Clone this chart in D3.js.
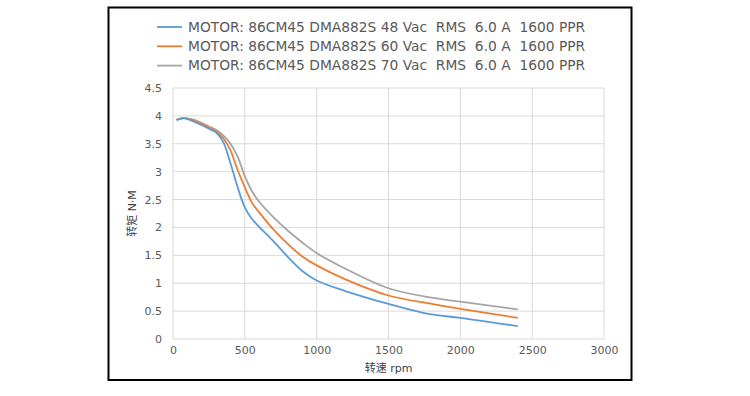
<!DOCTYPE html>
<html>
<head>
<meta charset="utf-8">
<script src="https://cdn.jsdelivr.net/npm/d3@7"></script>
<style>
  body { margin: 0; background: #fff; }
  text { font-family: "DejaVu Sans", "Noto Sans CJK SC", sans-serif; }
</style>
</head>
<body>
<div id="chart"></div>
<script>
// speed points (rpm) and torque (N·M) per motor voltage
const speeds = [25, 75, 150, 250, 300, 350, 400, 450, 500, 550, 600, 700, 800, 900, 1000, 1200, 1500, 1800, 2000, 2400];
const torque48 = [3.93, 3.96, 3.89, 3.77, 3.7, 3.53, 3.15, 2.72, 2.36, 2.15, 2.01, 1.75, 1.47, 1.22, 1.05, 0.86, 0.63, 0.44, 0.38, 0.23];
const torque60 = [3.93, 3.96, 3.91, 3.79, 3.72, 3.6, 3.38, 3.03, 2.72, 2.44, 2.27, 1.96, 1.7, 1.48, 1.32, 1.07, 0.78, 0.63, 0.54, 0.38];
const torque70 = [3.93, 3.96, 3.93, 3.81, 3.75, 3.65, 3.5, 3.27, 2.92, 2.65, 2.46, 2.18, 1.94, 1.73, 1.54, 1.26, 0.91, 0.74, 0.67, 0.53];
const seriesNames = [
  "MOTOR: 86CM45 DMA882S 48 Vac  RMS  6.0 A  1600 PPR",
  "MOTOR: 86CM45 DMA882S 60 Vac  RMS  6.0 A  1600 PPR",
  "MOTOR: 86CM45 DMA882S 70 Vac  RMS  6.0 A  1600 PPR"
];
const seriesColors = ["#5B9BD5", "#ED7D31", "#A5A5A5"];
const xTicks = [0, 500, 1000, 1500, 2000, 2500, 3000];
const yTicks = [0, 0.5, 1, 1.5, 2, 2.5, 3, 3.5, 4, 4.5];

const W = 750, H = 396;
const margin = { top: 88, right: 146, bottom: 57, left: 173 };
const width = W - margin.left - margin.right,
  height = H - margin.top - margin.bottom;

const svg = d3.select("#chart").append("svg")
  .attr("width", W).attr("height", H);

// outer frame
svg.append("rect")
  .attr("x", 108.5).attr("y", 7.5)
  .attr("width", 523).attr("height", 372.5)
  .attr("fill", "none").attr("stroke", "#000").attr("stroke-width", 2);

const g = svg.append("g").attr("transform", `translate(${margin.left},${margin.top})`);

const x = d3.scaleLinear().domain([0, 3000]).range([0, width]);
const y = d3.scaleLinear().domain([0, 4.5]).range([height, 0]);

// grid
g.append("g").selectAll("line").data(xTicks).join("line")
  .attr("x1", d => x(d)).attr("x2", d => x(d))
  .attr("y1", 0).attr("y2", height)
  .attr("stroke", "#D9D9D9").attr("stroke-width", 1);
g.append("g").selectAll("line").data(yTicks).join("line")
  .attr("x1", 0).attr("x2", width)
  .attr("y1", d => y(d)).attr("y2", d => y(d))
  .attr("stroke", "#D9D9D9").attr("stroke-width", 1);

// axes (labels only, Excel style)
const xAxis = g.append("g").attr("transform", `translate(0,${height})`)
  .call(d3.axisBottom(x).tickValues(xTicks).tickSize(0).tickPadding(7).tickFormat(d3.format("d")));
const yAxis = g.append("g")
  .call(d3.axisLeft(y).tickValues(yTicks).tickSize(0).tickPadding(11).tickFormat(d => String(d)));
[xAxis, yAxis].forEach(a => {
  a.select(".domain").remove();
  a.selectAll("text").attr("fill", "#595959").style("font-size", "11px")
    .style("font-family", "'DejaVu Sans', sans-serif");
});

// axis titles
g.append("text")
  .attr("x", width / 2).attr("y", height + 33)
  .attr("text-anchor", "middle")
  .attr("fill", "#404040").style("font-size", "11px")
  .text("转速 rpm");
g.append("text")
  .attr("transform", `translate(${-37},${height / 2}) rotate(-90)`)
  .attr("text-anchor", "middle")
  .attr("fill", "#404040").style("font-size", "11px")
  .text("转矩 N·M");

// lines
const seriesData = [torque48, torque60, torque70].map((vals, i) => ({
  name: seriesNames[i],
  color: seriesColors[i],
  values: speeds.map((s, j) => ({ speed: s, torque: vals[j] }))
}));

const line = d3.line()
  .x(d => x(d.speed))
  .y(d => y(d.torque))
  .curve(d3.curveCatmullRom.alpha(0.5));

g.selectAll(".series").data(seriesData.slice().reverse()).join("path")
  .attr("class", "series")
  .attr("d", d => line(d.values))
  .attr("fill", "none")
  .attr("stroke", d => d.color)
  .attr("stroke-width", 1.8);

// legend
const legend = svg.append("g").attr("transform", "translate(157,27)");
const items = legend.selectAll("g").data(seriesData).join("g")
  .attr("transform", (d, i) => `translate(0,${i * 19.3})`);
items.append("line")
  .attr("x1", 0).attr("x2", 25).attr("y1", 0).attr("y2", 0)
  .attr("stroke", d => d.color).attr("stroke-width", 1.8);
items.append("text")
  .attr("x", 31).attr("y", 0).attr("dy", "0.35em")
  .attr("fill", "#595959").style("font-size", "13.8px")
  .style("white-space", "pre")
  .attr("xml:space", "preserve")
  .text(d => d.name);
</script>
</body>
</html>
